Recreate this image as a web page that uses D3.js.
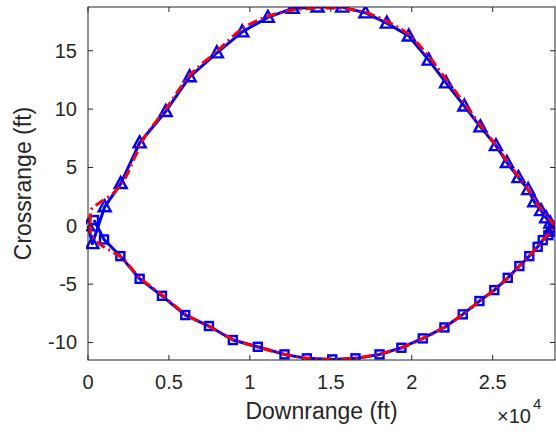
<!DOCTYPE html>
<html>
<head>
<meta charset="utf-8">
<script src="https://cdn.jsdelivr.net/npm/d3@7"></script>
<style>
  body { margin: 0; background: #fff; }
  text { font-family: "Liberation Sans", Arial, sans-serif; fill: #262626; }
</style>
</head>
<body>
<div id="chart"></div>
<script>
// blue trajectory, upper arc (triangle markers)
var triX = [0, 270, 1030, 2020, 3190, 4800, 6280, 7960, 9530, 11110, 12650, 14180, 15700,
  17140, 18460, 19820, 21050, 22120, 23250, 24240, 25200, 25880, 26590, 27190, 27570,
  27990, 28300, 28560, 28700];
var triY = [0, -1.53, 1.63, 3.62, 7.11, 9.8, 12.77, 14.82, 16.62, 17.86, 18.63, 18.75, 18.74,
  18.25, 17.37, 16.26, 14.2, 12.25, 10.26, 8.48, 6.87, 5.42, 4.13, 3.1, 2.06,
  1.3, 0.68, 0.23, -0.2];

// blue trajectory, lower arc (square markers)
var sqX = [370, 990, 2000, 3190, 4570, 6010, 7470, 8950, 10490, 12140, 13520, 15090, 16520,
  18010, 19360, 20680, 22020, 23150, 24180, 25100, 25930, 26650, 27260, 27780, 28090,
  28440, 28600, 28720];
var sqY = [0.49, -1.17, -2.6, -4.54, -6.0, -7.65, -8.59, -9.79, -10.37, -11.02, -11.36, -11.45, -11.36,
  -11.02, -10.45, -9.65, -8.71, -7.59, -6.45, -5.51, -4.46, -3.45, -2.6, -1.8, -1.23,
  -0.8, -0.5, -0.11];

// red reference trajectory (dash-dot)
var refX = [120, 150, 250, 700, 1650, 2300, 2900, 3500, 4800, 6300, 8000, 9600, 11100, 12700, 14200,
  15700, 17100, 18500, 19800, 21000, 22100, 23250, 24250, 25200, 25900, 26600, 27200,
  27600, 28000, 28400, 28700, 28850,
  28550, 28200, 27800, 27250, 26650, 25950, 25100, 24200, 23150, 22000, 20700, 19400,
  18000, 16500, 15100, 13500, 12100, 10500, 9000, 7500, 6000, 4600, 3200, 2100, 1450,
  700, 300, 150, 110, 120];
var refY = [0.2, 0.9, 1.5, 1.95, 2.9, 4.1, 5.9, 7.6, 10.0, 12.9, 15.0, 16.95, 17.95, 18.5, 18.65,
  18.6, 18.3, 17.5, 16.4, 14.6, 12.6, 10.5, 8.6, 6.9, 5.5, 4.2, 3.1,
  2.2, 1.4, 0.7, 0.25, 0,
  -0.55, -1.1, -1.75, -2.6, -3.45, -4.45, -5.5, -6.45, -7.6, -8.7, -9.65, -10.45,
  -11.0, -11.35, -11.45, -11.35, -11.0, -10.4, -9.75, -8.65, -7.55, -5.95, -4.45, -2.75, -2.2,
  -1.55, -1.0, -0.6, -0.2, 0.2];

var xTicks = [0, 5000, 10000, 15000, 20000, 25000];
var yTicks = [-10, -5, 0, 5, 10, 15];

var W = 556, H = 434;
var margin = { top: 7, right: 1, bottom: 74, left: 88 };
var width = W - margin.left - margin.right,
  height = H - margin.top - margin.bottom;

var svg = d3.select("#chart").append("svg")
  .attr("width", W)
  .attr("height", H);

var g = svg.append("g")
  .attr("transform", "translate(" + margin.left + "," + margin.top + ")");

var x = d3.scaleLinear().domain([0, 28850]).range([0, width]);
var y = d3.scaleLinear().domain([-11.5, 18.75]).range([height, 0]);

var axisColor = "#262626";

// clip to axes box
svg.append("defs").append("clipPath").attr("id", "box")
  .append("rect").attr("x", -2).attr("width", width + 2).attr("height", height);

var plot = g.append("g").attr("clip-path", "url(#box)");

function pts(xs, ys) {
  return xs.map(function(v, i) { return [x(v), y(ys[i])]; });
}

var line = d3.line();
var blue = "#0000ff", red = "#ff0000";

plot.append("path")
  .attr("d", line(pts(triX, triY)))
  .attr("fill", "none").attr("stroke", blue).attr("stroke-width", 3)
  .attr("stroke-linejoin", "round");

plot.append("path")
  .attr("d", line(pts(sqX, sqY)))
  .attr("fill", "none").attr("stroke", blue).attr("stroke-width", 3)
  .attr("stroke-linejoin", "round");

// triangle markers
plot.selectAll(".tri")
  .data(pts(triX, triY))
  .enter().append("path")
  .attr("class", "tri")
  .attr("transform", function(d) { return "translate(" + d[0] + "," + d[1] + ")"; })
  .attr("d", "M0,-6.5L6,4.5L-6,4.5Z")
  .attr("fill", "none").attr("stroke", blue).attr("stroke-width", 2.4);

// square markers
plot.selectAll(".sq")
  .data(pts(sqX, sqY))
  .enter().append("rect")
  .attr("class", "sq")
  .attr("x", function(d) { return d[0] - 4; })
  .attr("y", function(d) { return d[1] - 4; })
  .attr("width", 8).attr("height", 8)
  .attr("fill", "none").attr("stroke", blue).attr("stroke-width", 2.4);

// reference on top
plot.append("path")
  .attr("d", d3.line().curve(d3.curveCatmullRom)(pts(refX, refY)))
  .attr("fill", "none").attr("stroke", red).attr("stroke-width", 3)
  .attr("stroke-dasharray", "10,4,2,4");

// box
g.append("rect")
  .attr("width", width).attr("height", height)
  .attr("fill", "none").attr("stroke", axisColor).attr("stroke-width", 1);

var tl = 5;
// x ticks, bottom and top
xTicks.forEach(function(t) {
  var px = x(t);
  g.append("line").attr("x1", px).attr("x2", px).attr("y1", height).attr("y2", height - tl)
    .attr("stroke", axisColor);
  g.append("line").attr("x1", px).attr("x2", px).attr("y1", 0).attr("y2", tl)
    .attr("stroke", axisColor);
  g.append("text").attr("x", px).attr("y", height + 29)
    .attr("text-anchor", "middle").attr("font-size", 20)
    .text(t / 10000);
});

yTicks.forEach(function(t) {
  var py = y(t);
  g.append("line").attr("x1", 0).attr("x2", tl).attr("y1", py).attr("y2", py)
    .attr("stroke", axisColor);
  g.append("line").attr("x1", width).attr("x2", width - tl).attr("y1", py).attr("y2", py)
    .attr("stroke", axisColor);
  g.append("text").attr("x", -11).attr("y", py + 7)
    .attr("text-anchor", "end").attr("font-size", 20)
    .text(t);
});

// axis labels
g.append("text")
  .attr("x", width / 2).attr("y", height + 59)
  .attr("text-anchor", "middle").attr("font-size", 23)
  .text("Downrange (ft)");

g.append("text")
  .attr("transform", "translate(-57," + (height / 2) + ") rotate(-90)")
  .attr("text-anchor", "middle").attr("font-size", 23)
  .text("Crossrange (ft)");

// exponent
var ex = svg.append("text").attr("x", 497).attr("y", 423).attr("font-size", 20);
ex.append("tspan").text("\u00d710");
ex.append("tspan").attr("dy", -14).attr("font-size", 15).attr("dx", 2).text("4");
</script>
</body>
</html>
